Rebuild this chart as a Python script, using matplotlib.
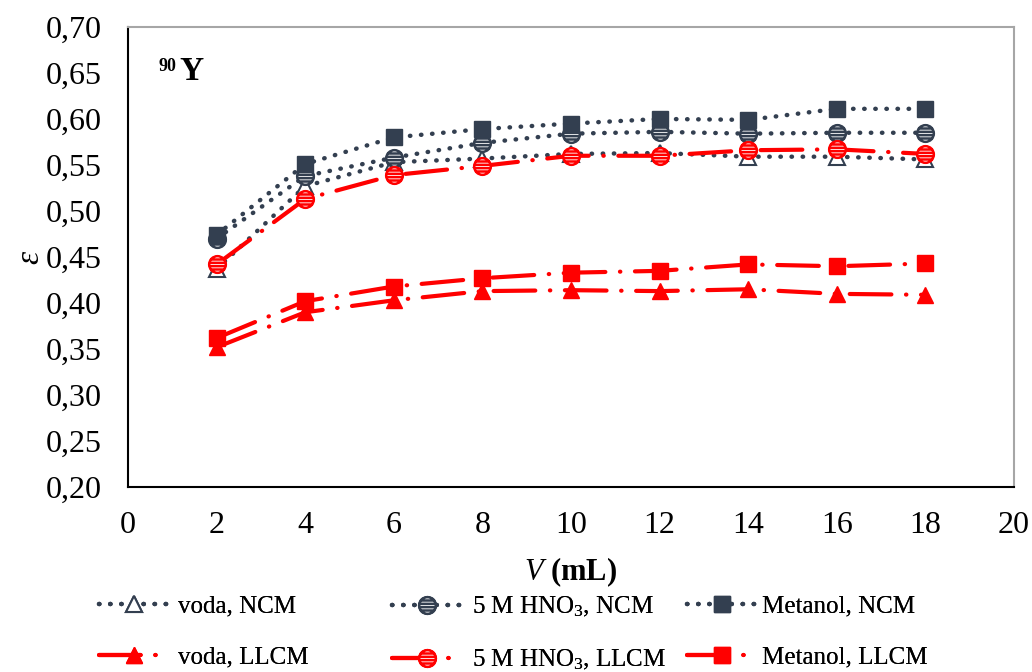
import numpy as np
import matplotlib.pyplot as plt
from matplotlib.path import Path

plt.rcParams['font.family'] = ['Liberation Serif', 'DejaVu Serif']
plt.rcParams['mathtext.fontset'] = 'custom'
plt.rcParams['mathtext.rm'] = 'Liberation Serif'
plt.rcParams['mathtext.it'] = 'Liberation Serif:italic'
plt.rcParams['mathtext.bf'] = 'Liberation Serif:bold'

V = [2, 4, 6, 8, 10, 12, 14, 16, 18]
voda_ncm = [0.437, 0.527, 0.553, 0.557, 0.562, 0.563, 0.559, 0.559, 0.556]
hno3_ncm = [0.470, 0.538, 0.558, 0.574, 0.584, 0.586, 0.584, 0.585, 0.585]
met_ncm = [0.474, 0.551, 0.580, 0.589, 0.595, 0.600, 0.599, 0.611, 0.611]
voda_llcm = [0.352, 0.390, 0.403, 0.413, 0.414, 0.413, 0.415, 0.410, 0.409]
hno3_llcm = [0.442, 0.513, 0.539, 0.549, 0.560, 0.560, 0.566, 0.567, 0.562]
met_llcm = [0.362, 0.402, 0.418, 0.427, 0.433, 0.435, 0.442, 0.440, 0.443]

dark = '#333f50'
red = '#ff0000'

# striped circle marker
parts = [Path.unit_circle()]
for yy in [-0.6, -0.2, 0.2, 0.6]:
    xx = np.sqrt(1 - yy ** 2)
    parts.append(Path([[-xx, yy], [xx, yy]], [Path.MOVETO, Path.LINETO]))
striped = Path.make_compound_path(*parts)

dotted = (0, (0.1, 2.4))
dashdot = (0, (10, 3.5, 0.1, 3.5))

fig = plt.figure(figsize=(10.32, 6.72), dpi=100)
ax = fig.add_axes([0.124, 0.275, 0.8586, 0.685])

l1, = ax.plot(V, voda_ncm, color=dark, ls=dotted, lw=3.2, dash_capstyle='round',
              marker='^', ms=11, mfc='white', mec=dark, mew=1.5, label='voda, NCM')
l2, = ax.plot(V, voda_llcm, color=red, ls=dashdot, lw=3, dash_capstyle='round',
              marker='^', ms=12, mfc=red, mec=red, label='voda, LLCM')
l3, = ax.plot(V, hno3_ncm, color=dark, ls=dotted, lw=3.2, dash_capstyle='round',
              marker=striped, ms=12, mfc='white', mec=dark, mew=1.8, label='5 M HNO$_3$, NCM')
l4, = ax.plot(V, hno3_llcm, color=red, ls=dashdot, lw=3, dash_capstyle='round',
              marker=striped, ms=12, mfc='white', mec=red, mew=1.8, label='5 M HNO$_3$, LLCM')
l5, = ax.plot(V, met_ncm, color=dark, ls=dotted, lw=3.2, dash_capstyle='round',
              marker='s', ms=12, mfc=dark, mec=dark, label='Metanol, NCM')
l6, = ax.plot(V, met_llcm, color=red, ls=dashdot, lw=3, dash_capstyle='round',
              marker='s', ms=11, mfc=red, mec=red, label='Metanol, LLCM')

ax.set_xlim(0, 20)
ax.set_ylim(0.20, 0.70)
ax.set_xticks(range(0, 21, 2))
yt = np.arange(0.20, 0.701, 0.05)
ax.set_yticks(yt)
ax.set_yticklabels([f'{v:.2f}'.replace('.', ',') for v in yt])
ax.tick_params(labelsize=23, length=0)
ax.tick_params(axis='y', pad=19)
ax.tick_params(axis='x', pad=17)

for s in ['left', 'bottom']:
    ax.spines[s].set_color('black')
    ax.spines[s].set_linewidth(1.5)
for s in ['top', 'right']:
    ax.spines[s].set_color('#a6a6a6')
    ax.spines[s].set_linewidth(1.5)

ax.set_ylabel('ε', fontsize=24, style='italic', labelpad=0)
ax.set_xlabel(r'$\mathbf{\mathit{V}}$ (mL)', fontsize=22, fontweight='bold', labelpad=11)

ax.text(0.035, 0.905, '90', transform=ax.transAxes, fontsize=13, fontweight='bold')
ax.text(0.058, 0.885, 'Y', transform=ax.transAxes, fontsize=24, fontweight='bold')

cols = [((l1, l2), 0.0746, 0.35, 0.060), ((l3, l4), 0.3585, 0.4, 0.057),
        ((l5, l6), 0.644, 0.2, 0.060)]
for hs, x0, pad, y0 in cols:
    leg = fig.legend(hs, [h.get_label() for h in hs], loc='center left',
                     bbox_to_anchor=(x0, y0), frameon=False, fontsize=18,
                     handlelength=2.8, labelspacing=1.14, handletextpad=pad)
    fig.add_artist(leg)

fig.savefig('out.png', dpi=100)
